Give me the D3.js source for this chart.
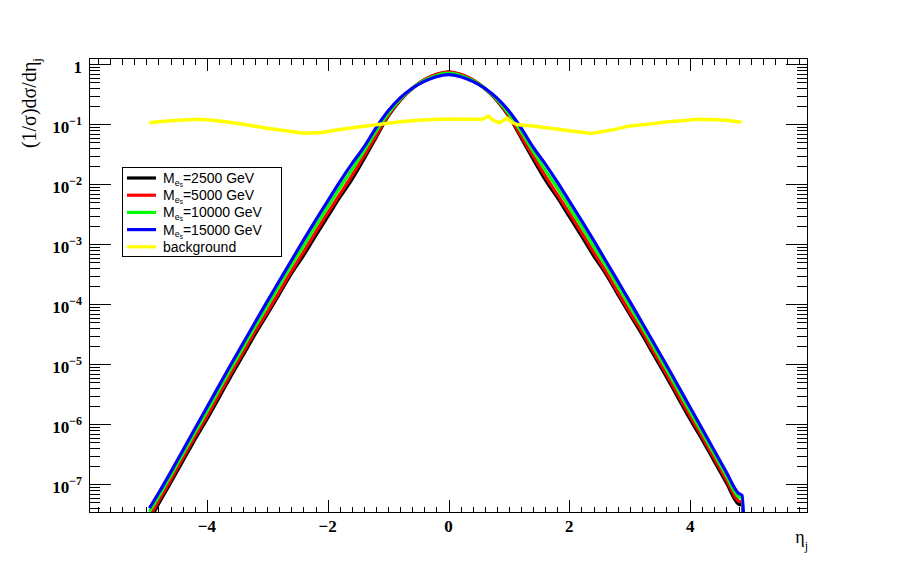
<!DOCTYPE html>
<html><head><meta charset="utf-8">
<script src="https://cdn.jsdelivr.net/npm/d3@7"></script>
<style>
html,body{margin:0;padding:0;background:#fff;}
svg{display:block;}
</style></head>
<body>
<svg id="chart" width="898" height="571"></svg>
<script>
// ---- data ----
const sigEta = [-4.95,-4.8,-4.6,-4.4,-4.2,-4.0,-3.8,-3.6,-3.4,-3.2,-3.0,-2.8,-2.6,-2.4,-2.2,-2.0,-1.8,-1.6,-1.4,-1.2,-1.0,-0.8,-0.6,-0.4,-0.2,0,
  0.2,0.4,0.6,0.8,1.0,1.2,1.4,1.6,1.8,2.0,2.2,2.4,2.6,2.8,3.0,3.2,3.4,3.6,3.8,4.0,4.2,4.4,4.6,4.8,4.86,4.9];
const blue15000 = [4.0e-8,7.08e-8,1.58e-7,3.63e-7,8.32e-7,1.91e-6,4.37e-6,1.00e-5,2.24e-5,5.01e-5,1.12e-4,2.45e-4,5.37e-4,1.17e-3,2.51e-3,5.25e-3,1.10e-2,2.19e-2,4.17e-2,8.71e-2,0.166,0.275,0.398,0.520,0.620,0.670,
  0.620,0.520,0.398,0.275,0.166,8.71e-2,4.17e-2,2.19e-2,1.10e-2,5.25e-3,2.51e-3,1.17e-3,5.37e-4,2.45e-4,1.12e-4,5.01e-5,2.24e-5,1.00e-5,4.37e-6,1.91e-6,8.32e-7,3.63e-7,1.58e-7,7.08e-8,6.5e-8,1.0e-8];
const green10000 = [3.5e-8,6.17e-8,1.38e-7,3.16e-7,7.24e-7,1.62e-6,3.72e-6,8.51e-6,1.91e-5,4.27e-5,9.33e-5,2.04e-4,4.47e-4,9.33e-4,2.00e-3,4.17e-3,8.71e-3,1.74e-2,3.55e-2,7.60e-2,0.150,0.262,0.398,0.540,0.650,0.710,
  0.650,0.540,0.398,0.262,0.150,7.60e-2,3.55e-2,1.74e-2,8.71e-3,4.17e-3,2.00e-3,9.33e-4,4.47e-4,2.04e-4,9.33e-5,4.27e-5,1.91e-5,8.51e-6,3.72e-6,1.62e-6,7.24e-7,3.16e-7,1.38e-7,6.17e-8,5.8e-8,1.0e-8];
const red5000 = [2.8e-8,5.25e-8,1.17e-7,2.69e-7,6.17e-7,1.35e-6,3.09e-6,7.08e-6,1.58e-5,3.55e-5,7.41e-5,1.62e-4,3.55e-4,7.41e-4,1.58e-3,3.31e-3,6.76e-3,1.38e-2,2.95e-2,6.40e-2,0.140,0.255,0.400,0.555,0.680,0.750,
  0.680,0.555,0.400,0.255,0.140,6.40e-2,2.95e-2,1.38e-2,6.76e-3,3.31e-3,1.58e-3,7.41e-4,3.55e-4,1.62e-4,7.41e-5,3.55e-5,1.58e-5,7.08e-6,3.09e-6,1.35e-6,6.17e-7,2.69e-7,1.17e-7,5.25e-8,5.0e-8,1.0e-8];
const black2500 = [2.4e-8,4.68e-8,1.05e-7,2.40e-7,5.50e-7,1.20e-6,2.75e-6,6.31e-6,1.41e-5,3.16e-5,6.76e-5,1.48e-4,3.24e-4,6.46e-4,1.38e-3,2.88e-3,6.03e-3,1.20e-2,2.63e-2,6.00e-2,0.135,0.250,0.395,0.550,0.672,0.740,
  0.672,0.550,0.395,0.250,0.135,6.00e-2,2.63e-2,1.20e-2,6.03e-3,2.88e-3,1.38e-3,6.46e-4,3.24e-4,1.48e-4,6.76e-5,3.16e-5,1.41e-5,6.31e-6,2.75e-6,1.20e-6,5.50e-7,2.40e-7,1.05e-7,4.68e-8,4.5e-8,1.0e-8];
const bgEta = [-4.95,-4.8,-4.6,-4.4,-4.13,-3.9,-3.5,-3.0,-2.7,-2.4,-2.1,-1.8,-1.5,-1.1,-0.8,-0.44,0,0.4,0.55,0.66,0.75,0.85,0.97,1.05,1.15,1.4,1.65,2.0,2.37,2.7,3.0,3.3,3.6,3.9,4.13,4.4,4.6,4.85];
const background = [0.106,0.110,0.115,0.118,0.121,0.117,0.104,0.086,0.078,0.071,0.073,0.082,0.090,0.101,0.110,0.118,0.122,0.121,0.120,0.137,0.115,0.106,0.127,0.108,0.098,0.094,0.087,0.078,0.0705,0.080,0.094,0.100,0.109,0.116,0.121,0.119,0.117,0.108];
const xTickValues = [-4,-2,0,2,4];
const xTickLabels = ["\u22124","\u22122","0","2","4"];
const yDecades = [0,-1,-2,-3,-4,-5,-6,-7];
const legendLabels = ["2500 GeV","5000 GeV","10000 GeV","15000 GeV","background"];
const legendColors = ["#000000","#ff0000","#00ff00","#0000ff","#ffff00"];

// ---- layout ----
const fx0 = 89, fx1 = 808, fy0 = 58, fy1 = 513;
const x = d3.scaleLinear().domain([-5.95, 5.95]).range([fx0, fx1]);
const y = d3.scaleLog().domain([3.32e-8, 1.273]).range([fy1, fy0]);

const svg = d3.select("#chart");
svg.append("defs").append("clipPath").attr("id","clip")
  .append("rect").attr("x",fx0).attr("y",fy0).attr("width",fx1-fx0).attr("height",fy1-fy0);

const plot = svg.append("g").attr("clip-path","url(#clip)");
const line = d3.line().x(d=>x(d[0])).y(d=>y(d[1])).curve(d3.curveMonotoneX);

const series = [
  {vals: black2500, color:"#000000"},
  {vals: red5000, color:"#ff0000"},
  {vals: green10000, color:"#00ff00"},
  {vals: blue15000, color:"#0000ff"}
];
series.forEach(s=>{
  plot.append("path").datum(sigEta.map((e,i)=>[e,s.vals[i]]))
    .attr("d",line).attr("fill","none").attr("stroke",s.color)
    .attr("stroke-width",3.2).attr("stroke-linejoin","round");
});
const bgLine = d3.line().x(d=>x(d[0])).y(d=>y(d[1]));
plot.append("path").datum(bgEta.map((e,i)=>[e,background[i]]))
  .attr("d",bgLine).attr("fill","none").attr("stroke","#ffff00")
  .attr("stroke-width",3.5).attr("stroke-linejoin","round");

// ---- frame ----
const axG = svg.append("g").attr("stroke","#000").attr("stroke-width",1).attr("shape-rendering","crispEdges");
axG.append("rect").attr("x",fx0+0.5).attr("y",fy0+0.5).attr("width",fx1-fx0-1).attr("height",fy1-fy0-1).attr("fill","none");

const xMinor = d3.range(-29,30).map(k=>k*0.2);
xMinor.forEach(v=>{
  const major = Math.abs(Math.round(v*10)%20)===0;
  const len = major ? 13 : 6.5;
  const px = Math.round(x(v))+0.5;
  axG.append("line").attr("x1",px).attr("x2",px).attr("y1",fy1).attr("y2",fy1-len);
  axG.append("line").attr("x1",px).attr("x2",px).attr("y1",fy0).attr("y2",fy0+len);
});
yDecades.forEach(k=>{
  for(let m=1;m<=9;m++){
    const v = m*Math.pow(10,k);
    const dom = y.domain();
    if(v<dom[0]||v>dom[1]) continue;
    const len = m===1 ? 22 : 11;
    const py = Math.round(y(v))+0.5;
    axG.append("line").attr("x1",fx0).attr("x2",fx0+len).attr("y1",py).attr("y2",py);
    axG.append("line").attr("x1",fx1).attr("x2",fx1-len).attr("y1",py).attr("y2",py);
  }
});
for(let m=4;m<=9;m++){
  const v = m*1e-8; if(v<y.domain()[0]) continue;
  const py = Math.round(y(v))+0.5;
  axG.append("line").attr("x1",fx0).attr("x2",fx0+11).attr("y1",py).attr("y2",py);
  axG.append("line").attr("x1",fx1).attr("x2",fx1-11).attr("y1",py).attr("y2",py);
}

const serif = "'Liberation Serif','Times New Roman',serif";
xTickValues.forEach((v,i)=>{
  svg.append("text").attr("x",x(v)).attr("y",532).attr("text-anchor","middle")
    .attr("font-family",serif).attr("font-weight","bold").attr("font-size",17)
    .text(xTickLabels[i]);
});
yDecades.forEach(k=>{
  const py = y(Math.pow(10,k));
  if(k===0){
    svg.append("text").attr("x",82).attr("y",py+8.5).attr("text-anchor","end")
      .attr("font-family",serif).attr("font-weight","bold").attr("font-size",17).text("1");
  } else {
    const t = svg.append("text").attr("x",82).attr("y",py+8.5).attr("text-anchor","end")
      .attr("font-family",serif).attr("font-weight","bold").attr("font-size",17);
    t.append("tspan").text("10");
    t.append("tspan").attr("font-size",12).attr("dy",-8).text("\u2212"+Math.abs(k));
  }
});

const yt = svg.append("text").attr("transform","translate(36,58) rotate(-90)")
  .attr("text-anchor","end").attr("font-family",serif).attr("font-size",20);
yt.append("tspan").text("(1/\u03c3)d\u03c3/d\u03b7");
yt.append("tspan").attr("font-size",13).attr("dy",5).text("j");

const xt = svg.append("text").attr("x",808).attr("y",543).attr("text-anchor","end")
  .attr("font-family",serif).attr("font-size",18);
xt.append("tspan").text("\u03b7");
xt.append("tspan").attr("font-size",12).attr("dy",7).text("j");

// legend
const sans = "'Liberation Sans',Arial,Helvetica,sans-serif";
const lg = svg.append("g");
lg.append("rect").attr("x",122.5).attr("y",167.5).attr("width",159).attr("height",89)
  .attr("fill","#fff").attr("stroke","#000").attr("stroke-width",1).attr("shape-rendering","crispEdges");
legendLabels.forEach((lab,i)=>{
  const cy = 178 + i*17.2;
  lg.append("line").attr("x1",127).attr("x2",156).attr("y1",cy).attr("y2",cy)
    .attr("stroke",legendColors[i]).attr("stroke-width",3.2);
  const t = lg.append("text").attr("x",163).attr("y",cy+5)
    .attr("font-family",sans).attr("font-size",14);
  if(i<4){
    t.append("tspan").text("M");
    t.append("tspan").attr("font-size",9).attr("dy",2.5).text("e");
    t.append("tspan").attr("font-size",6.5).attr("dy",1.5).text("s");
    t.append("tspan").attr("font-size",14).attr("dy",-4).text("="+lab);
  } else {
    t.text(lab);
  }
});
</script>
</body></html>
